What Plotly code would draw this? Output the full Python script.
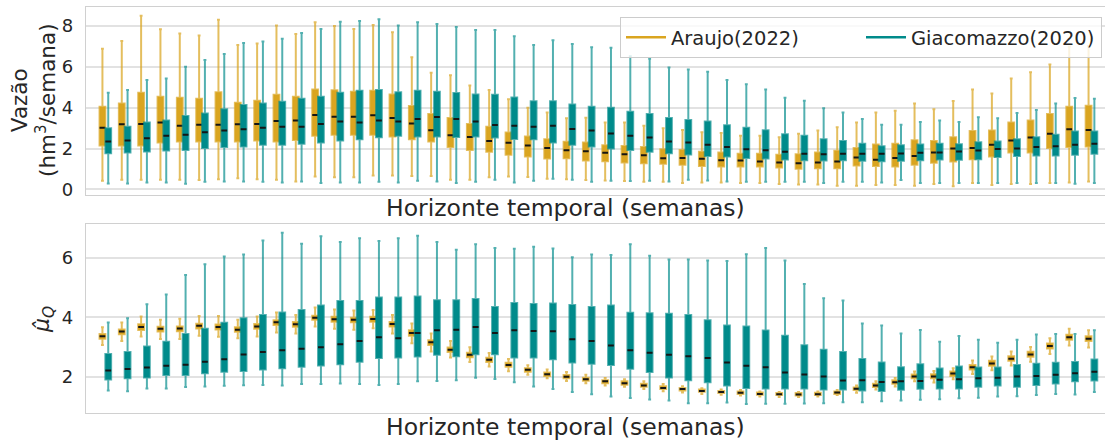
import plotly.graph_objects as go

# ---------------- data ----------------
weeks = list(range(1, 53))

# Top panel: Vazão (hm3/semana) -- Araujo(2022)
vaz_ara_up = [6.88, 7.27, 8.50, 7.84, 7.63, 7.53, 8.31, 7.07, 7.14, 8.02, 7.61, 8.18, 8.00, 7.85, 8.05, 7.69, 6.47, 5.71, 5.59, 5.09, 4.86, 4.41, 4.00, 3.77, 3.48, 3.51,
              3.27, 3.27, 3.12, 2.99, 2.91, 2.80, 2.76, 2.62, 2.62, 2.55, 2.72, 2.88, 3.04, 3.28, 3.76, 3.85, 4.20, 3.92, 4.33, 4.89, 4.70, 5.43, 5.74, 6.11, 6.98, 7.02]
vaz_ara_q3 = [4.05, 4.21, 4.73, 4.54, 4.49, 4.44, 4.76, 4.24, 4.34, 4.63, 4.54, 4.89, 4.85, 4.78, 4.83, 4.65, 4.08, 3.69, 3.50, 3.20, 3.07, 2.78, 2.59, 2.46, 2.33, 2.29,
              2.16, 2.13, 2.07, 1.97, 1.93, 1.84, 1.80, 1.74, 1.74, 1.69, 1.72, 1.80, 1.89, 2.02, 2.20, 2.23, 2.41, 2.37, 2.55, 2.86, 2.88, 3.27, 3.37, 3.69, 4.05, 4.10]
vaz_ara_med = [3.02, 3.19, 3.20, 3.27, 3.12, 3.17, 3.17, 3.19, 3.20, 3.35, 3.37, 3.64, 3.56, 3.56, 3.63, 3.50, 3.22, 2.89, 2.65, 2.57, 2.37, 2.28, 2.15, 2.03, 1.92, 1.87,
               1.79, 1.72, 1.67, 1.53, 1.54, 1.50, 1.43, 1.41, 1.37, 1.32, 1.28, 1.32, 1.37, 1.56, 1.45, 1.54, 1.64, 1.80, 2.00, 2.02, 2.18, 2.39, 2.54, 2.72, 2.94, 2.91]
vaz_ara_q1 = [2.15, 2.15, 2.15, 2.29, 2.34, 2.34, 2.34, 2.34, 2.39, 2.34, 2.42, 2.62, 2.67, 2.67, 2.67, 2.59, 2.46, 2.34, 2.07, 1.93, 1.84, 1.69, 1.61, 1.51, 1.53, 1.41,
              1.38, 1.32, 1.28, 1.25, 1.20, 1.15, 1.12, 1.12, 1.12, 1.07, 1.01, 1.04, 1.04, 1.17, 1.15, 1.12, 1.20, 1.30, 1.37, 1.48, 1.61, 1.80, 1.80, 2.02, 2.07, 2.10]
vaz_ara_low = [0.42, 0.47, 0.47, 0.47, 0.47, 0.46, 0.50, 0.54, 0.50, 0.47, 0.39, 0.63, 0.59, 0.59, 0.68, 0.68, 0.65, 0.65, 0.47, 0.47, 0.59, 0.63, 0.60, 0.52, 0.50, 0.46,
               0.44, 0.41, 0.37, 0.37, 0.31, 0.34, 0.34, 0.31, 0.31, 0.26, 0.24, 0.24, 0.18, 0.18, 0.21, 0.21, 0.18, 0.26, 0.15, 0.31, 0.21, 0.26, 0.26, 0.31, 0.34, 0.39]

# Top panel: Vazão -- Giacomazzo(2020)
vaz_gia_up = [4.73, 4.86, 5.35, 5.43, 6.00, 6.33, 6.63, 7.17, 7.24, 7.37, 7.66, 7.85, 8.21, 8.24, 8.33, 8.02, 8.18, 8.10, 7.95, 7.80, 7.80, 7.50, 7.07, 7.30, 7.12, 6.96,
              6.93, 6.52, 6.39, 5.97, 5.87, 5.76, 5.35, 5.15, 4.89, 4.49, 4.34, 3.97, 3.76, 3.45, 3.17, 3.17, 3.30, 3.37, 3.30, 3.53, 3.48, 3.74, 3.89, 4.21, 4.47, 4.44]
vaz_gia_q3 = [2.99, 3.07, 3.27, 3.37, 3.59, 3.72, 3.92, 4.13, 4.21, 4.29, 4.44, 4.54, 4.73, 4.83, 4.86, 4.76, 4.83, 4.78, 4.72, 4.65, 4.63, 4.50, 4.31, 4.31, 4.16, 4.05,
              4.00, 3.80, 3.69, 3.50, 3.40, 3.32, 3.14, 3.02, 2.89, 2.70, 2.62, 2.46, 2.37, 2.23, 2.11, 2.16, 2.20, 2.24, 2.21, 2.31, 2.34, 2.46, 2.55, 2.68, 2.83, 2.83]
vaz_gia_med = [2.34, 2.39, 2.50, 2.62, 2.68, 2.80, 2.88, 2.94, 3.02, 3.07, 3.07, 3.20, 3.32, 3.28, 3.37, 3.32, 3.45, 3.54, 3.45, 3.32, 3.15, 3.12, 3.07, 3.11, 2.96, 2.88,
               2.73, 2.63, 2.54, 2.34, 2.29, 2.18, 2.08, 1.97, 1.92, 1.84, 1.74, 1.72, 1.74, 1.74, 1.74, 1.76, 1.79, 1.80, 1.85, 1.90, 1.98, 2.00, 2.07, 2.11, 2.18, 2.24]
vaz_gia_q1 = [1.77, 1.80, 1.85, 1.90, 1.93, 2.02, 2.07, 2.10, 2.18, 2.18, 2.23, 2.29, 2.39, 2.46, 2.55, 2.62, 2.59, 2.59, 2.57, 2.59, 2.54, 2.47, 2.46, 2.29, 2.18, 2.10,
              2.00, 1.93, 1.84, 1.77, 1.71, 1.64, 1.61, 1.54, 1.51, 1.46, 1.43, 1.41, 1.43, 1.40, 1.38, 1.40, 1.43, 1.46, 1.45, 1.48, 1.58, 1.64, 1.66, 1.66, 1.69, 1.74]
vaz_gia_low = [0.29, 0.29, 0.34, 0.34, 0.28, 0.37, 0.39, 0.39, 0.37, 0.34, 0.39, 0.31, 0.34, 0.34, 0.37, 0.34, 0.42, 0.39, 0.31, 0.37, 0.47, 0.34, 0.42, 0.52, 0.47, 0.37,
               0.42, 0.41, 0.42, 0.39, 0.47, 0.44, 0.39, 0.37, 0.37, 0.37, 0.37, 0.31, 0.37, 0.37, 0.34, 0.46, 0.31, 0.31, 0.31, 0.31, 0.31, 0.31, 0.31, 0.31, 0.28, 0.31]

# Bottom panel: mu_Q -- Araujo(2022)
mu_ara_up = [3.67, 3.83, 4.03, 3.92, 3.96, 4.05, 4.05, 3.92, 4.03, 4.17, 4.08, 4.33, 4.27, 4.23, 4.25, 4.08, 3.80, 3.46, 3.21, 3.00, 2.81, 2.61, 2.40, 2.26, 2.17, 2.08,
             1.97, 1.93, 1.86, 1.77, 1.70, 1.63, 1.59, 1.57, 1.52, 1.50, 1.50, 1.52, 1.57, 1.72, 1.86, 1.97, 2.19, 2.21, 2.30, 2.56, 2.69, 2.86, 3.01, 3.30, 3.62, 3.57]
mu_ara_q3 = [3.45, 3.60, 3.77, 3.69, 3.70, 3.79, 3.76, 3.67, 3.78, 3.91, 3.85, 4.06, 4.02, 3.99, 4.02, 3.85, 3.57, 3.24, 2.99, 2.82, 2.65, 2.48, 2.30, 2.16, 2.07, 1.98,
             1.90, 1.86, 1.78, 1.70, 1.64, 1.59, 1.54, 1.52, 1.49, 1.47, 1.47, 1.48, 1.52, 1.65, 1.78, 1.90, 2.09, 2.10, 2.19, 2.41, 2.55, 2.70, 2.85, 3.13, 3.42, 3.37]
mu_ara_med = [3.37, 3.53, 3.68, 3.62, 3.63, 3.72, 3.68, 3.59, 3.70, 3.84, 3.77, 3.99, 3.94, 3.92, 3.95, 3.78, 3.48, 3.17, 2.92, 2.75, 2.58, 2.41, 2.25, 2.10, 2.01, 1.93,
              1.86, 1.80, 1.72, 1.64, 1.60, 1.54, 1.50, 1.48, 1.44, 1.43, 1.42, 1.43, 1.49, 1.61, 1.72, 1.83, 2.02, 2.02, 2.12, 2.33, 2.46, 2.62, 2.76, 3.04, 3.34, 3.29]
mu_ara_q1 = [3.29, 3.44, 3.58, 3.53, 3.54, 3.63, 3.60, 3.52, 3.62, 3.75, 3.69, 3.92, 3.86, 3.84, 3.86, 3.70, 3.39, 3.08, 2.84, 2.67, 2.51, 2.35, 2.18, 2.04, 1.96, 1.88,
             1.80, 1.75, 1.68, 1.60, 1.55, 1.51, 1.47, 1.44, 1.41, 1.40, 1.39, 1.40, 1.44, 1.57, 1.67, 1.78, 1.96, 1.96, 2.04, 2.26, 2.38, 2.55, 2.68, 2.96, 3.25, 3.21]
mu_ara_low = [3.08, 3.21, 3.36, 3.28, 3.28, 3.39, 3.35, 3.30, 3.36, 3.50, 3.46, 3.70, 3.62, 3.59, 3.64, 3.46, 3.14, 2.86, 2.66, 2.51, 2.36, 2.20, 2.08, 1.96, 1.87, 1.80,
              1.72, 1.68, 1.60, 1.53, 1.49, 1.44, 1.41, 1.39, 1.35, 1.34, 1.34, 1.35, 1.40, 1.48, 1.59, 1.69, 1.86, 1.82, 1.93, 2.11, 2.23, 2.39, 2.52, 2.78, 3.06, 2.99]

# Bottom panel: mu_Q -- Giacomazzo(2020)
mu_gia_up = [3.83, 3.97, 4.44, 4.77, 5.42, 5.78, 6.04, 6.11, 6.58, 6.84, 6.47, 6.72, 6.53, 6.65, 6.56, 6.65, 6.74, 6.53, 6.27, 6.45, 6.33, 6.30, 6.37, 6.31, 6.02, 6.11,
             6.09, 6.45, 6.07, 5.94, 5.94, 5.91, 5.89, 6.12, 6.33, 5.91, 5.12, 4.64, 4.57, 3.80, 3.73, 3.46, 3.58, 3.19, 3.38, 3.25, 3.15, 3.25, 3.43, 3.45, 3.45, 3.57]
mu_gia_q3 = [2.78, 2.84, 3.03, 3.19, 3.45, 3.62, 3.82, 3.97, 4.08, 4.17, 4.25, 4.40, 4.55, 4.55, 4.67, 4.67, 4.70, 4.58, 4.58, 4.62, 4.35, 4.48, 4.45, 4.47, 4.42, 4.35,
             4.40, 4.16, 4.14, 4.12, 4.08, 3.91, 3.73, 3.70, 3.56, 3.39, 3.07, 2.92, 2.84, 2.61, 2.49, 2.33, 2.43, 2.29, 2.36, 2.32, 2.32, 2.41, 2.45, 2.48, 2.51, 2.59]
mu_gia_med = [2.22, 2.27, 2.32, 2.38, 2.42, 2.52, 2.60, 2.76, 2.84, 2.90, 2.95, 3.00, 3.10, 3.21, 3.34, 3.30, 3.48, 3.57, 3.59, 3.68, 3.48, 3.57, 3.55, 3.54, 3.27, 3.21,
              3.06, 2.90, 2.82, 2.75, 2.70, 2.64, 2.49, 2.38, 2.33, 2.16, 2.09, 2.02, 1.89, 1.90, 1.84, 1.86, 1.87, 1.91, 1.93, 1.96, 1.98, 2.02, 2.04, 2.08, 2.13, 2.18]
mu_gia_q1 = [1.92, 1.96, 1.99, 2.07, 2.07, 2.13, 2.18, 2.21, 2.26, 2.30, 2.35, 2.39, 2.43, 2.52, 2.64, 2.66, 2.69, 2.75, 2.70, 2.77, 2.77, 2.66, 2.66, 2.60, 2.49, 2.45,
             2.41, 2.28, 2.17, 1.99, 1.90, 1.83, 1.72, 1.64, 1.62, 1.62, 1.62, 1.59, 1.59, 1.55, 1.54, 1.58, 1.61, 1.62, 1.62, 1.68, 1.72, 1.68, 1.74, 1.79, 1.86, 1.89]
mu_gia_low = [1.55, 1.53, 1.62, 1.62, 1.67, 1.69, 1.71, 1.73, 1.74, 1.72, 1.77, 1.77, 1.79, 1.77, 1.74, 1.77, 1.86, 1.87, 1.90, 1.98, 1.94, 1.83, 1.69, 1.60, 1.50, 1.43,
              1.35, 1.30, 1.25, 1.22, 1.13, 1.13, 1.15, 1.10, 1.11, 1.11, 1.12, 1.13, 1.16, 1.16, 1.19, 1.22, 1.24, 1.26, 1.29, 1.31, 1.35, 1.36, 1.40, 1.44, 1.42, 1.50]

series_names = ["Araujo(2022)", "Giacomazzo(2020)"]
x_title = "Horizonte temporal (semanas)"
y_title_top = "Vazão<br>(hm<sup>3</sup>/semana)"
y_title_bottom = "<i>μ̂</i><sub><i>Q</i></sub>"
top_ticks = [0, 2, 4, 6, 8]
bottom_ticks = [2, 4, 6]

# ---------------- style ----------------
GOLD = "#DAA520"
GOLD_LINE = "rgba(218,165,32,0.72)"
TEAL = "#008B8B"
TEAL_LINE = "rgba(0,139,139,0.68)"
TXT = "#262626"
FONT = "DejaVu Sans"

W, H = 1105, 441
ML, MR, MT, MB = 86, 0, 7, 28
PLOT_W = W - ML - MR
PLOT_H = H - MT - MB


def fy(px):
    return (H - MB - px) / PLOT_H


def fx(px):
    return (px - ML) / PLOT_W


BOX_W = 0.3
OFF = 0.15

fig = go.Figure()


def add_series(low, q1, med, q3, up, fill, line, offset, xa, ya):
    xs = [w + offset for w in weeks]
    fig.add_trace(go.Box(
        x=xs, lowerfence=low, q1=q1, median=med, q3=q3, upperfence=up,
        width=BOX_W, fillcolor=fill, line=dict(color=line, width=2),
        whiskerwidth=0.5, boxpoints=False, showlegend=False,
        hoverinfo="skip", xaxis=xa, yaxis=ya))
    # black median line drawn as a flat box
    fig.add_trace(go.Box(
        x=xs, lowerfence=med, q1=med, median=med, q3=med, upperfence=med,
        width=BOX_W, fillcolor="rgba(0,0,0,0)", line=dict(color="#151515", width=2),
        whiskerwidth=0, boxpoints=False, showlegend=False,
        hoverinfo="skip", xaxis=xa, yaxis=ya))


add_series(vaz_ara_low, vaz_ara_q1, vaz_ara_med, vaz_ara_q3, vaz_ara_up, GOLD, GOLD_LINE, -OFF, "x", "y")
add_series(vaz_gia_low, vaz_gia_q1, vaz_gia_med, vaz_gia_q3, vaz_gia_up, TEAL, TEAL_LINE, OFF, "x", "y")
add_series(mu_ara_low, mu_ara_q1, mu_ara_med, mu_ara_q3, mu_ara_up, GOLD, GOLD_LINE, -OFF, "x2", "y2")
add_series(mu_gia_low, mu_gia_q1, mu_gia_med, mu_gia_q3, mu_gia_up, TEAL, TEAL_LINE, OFF, "x2", "y2")

# legend entries (line handles)
for name, col in zip(series_names, [GOLD, TEAL]):
    fig.add_trace(go.Scatter(x=[None], y=[None], mode="lines", name=name,
                             line=dict(color=col, width=2.5), xaxis="x", yaxis="y"))

xcommon = dict(range=[0, 52.7], showticklabels=False, showgrid=False, zeroline=False,
               showline=True, mirror=True, linecolor="#d0d0d0", linewidth=1.3, ticks="")
ycommon = dict(showgrid=True, gridcolor="#e2e2e2", gridwidth=1.5, zeroline=False,
               showline=True, mirror=False, linecolor="#d0d0d0", linewidth=1.3,
               ticks="outside", ticklen=8, tickcolor="rgba(0,0,0,0)",
               tickfont=dict(size=18, color=TXT, family=FONT))

fig.update_layout(
    width=W, height=H,
    margin=dict(l=ML, r=MR, t=MT, b=MB),
    paper_bgcolor="white", plot_bgcolor="white",
    font=dict(family=FONT, color=TXT),
    boxmode="overlay",
    xaxis=dict(domain=[0, 1], anchor="y", **xcommon),
    xaxis2=dict(domain=[0, 1], anchor="y2", **xcommon),
    yaxis=dict(domain=[fy(195.3), 1], anchor="x", range=[-0.29, 8.93], tickvals=top_ticks, **ycommon),
    yaxis2=dict(domain=[0, fy(224.3)], anchor="x2", range=[0.80, 7.12], tickvals=bottom_ticks, **ycommon),
    legend=dict(orientation="h", x=fx(1102), xanchor="right", y=fy(17), yanchor="top",
                bgcolor="rgba(255,255,255,0.8)", bordercolor="#cccccc", borderwidth=1,
                entrywidth=185, entrywidthmode="pixels", itemwidth=40,
                font=dict(size=19.5, color=TXT, family=FONT)),
    annotations=[
        dict(text=x_title, xref="paper", yref="paper", x=fx(565), y=fy(208),
             xanchor="center", yanchor="middle", showarrow=False,
             font=dict(size=23.5, color=TXT, family=FONT)),
        dict(text=x_title, xref="paper", yref="paper", x=fx(565), y=fy(427),
             xanchor="center", yanchor="middle", showarrow=False,
             font=dict(size=23.5, color=TXT, family=FONT)),
        dict(text=y_title_top, xref="paper", yref="paper", x=fx(33), y=fy(100),
             xanchor="center", yanchor="middle", showarrow=False, textangle=-90,
             font=dict(size=21.5, color=TXT, family=FONT)),
        dict(text=y_title_bottom, xref="paper", yref="paper", x=fx(43), y=fy(320),
             xanchor="center", yanchor="middle", showarrow=False, textangle=-90,
             font=dict(size=22, color=TXT, family=FONT)),
    ],
)

fig.write_html("out.html")
